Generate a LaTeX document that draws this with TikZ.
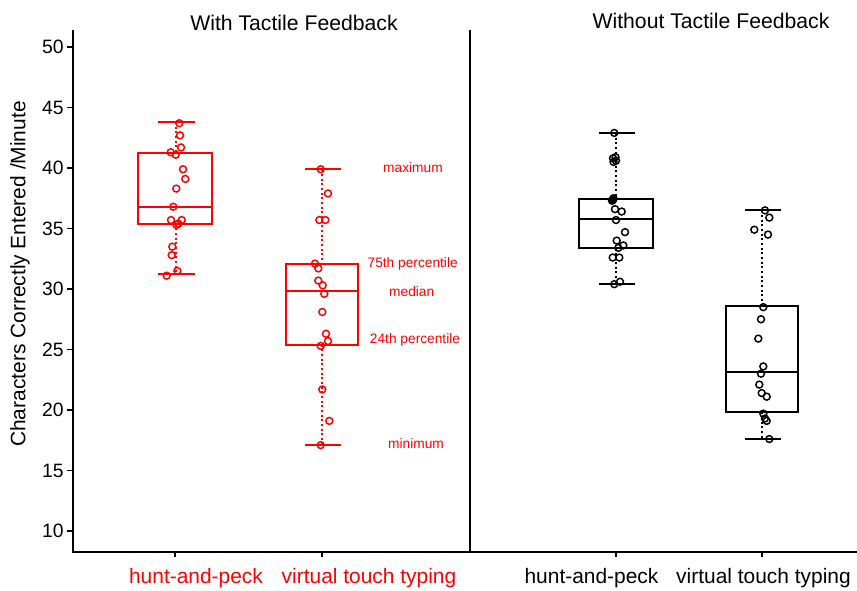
\documentclass[tikz,border=0pt]{standalone}
\usepackage{fontspec}
\setmainfont{Liberation Sans}
\begin{document}
\begin{tikzpicture}[x=0.75pt,y=-0.75pt,
  axisline/.style={line width=1.5pt,black},
  boxline/.style={line width=1.5pt},
  whisk/.style={line width=1.5pt,dotted},
  ptm/.style={line width=1.1pt},
  tlab/.style={font=\fontsize{14.5}{16}\selectfont,anchor=east,inner sep=0pt},
  xlab/.style={font=\fontsize{15.7}{18}\selectfont,inner sep=0pt},
  ttl/.style={font=\fontsize{15.9}{18}\selectfont,inner sep=0pt},
  ann/.style={font=\fontsize{10.3}{12}\selectfont,text=red,inner sep=0pt}]
\useasboundingbox (0,0) rectangle (857,590);
% axes
\draw[axisline] (73,30) -- (73,552) -- (470,552);
\draw[axisline] (470,30) -- (470,552) -- (857,552);
% y ticks
\foreach \v in {10,15,...,50}{
  \pgfmathsetmacro{\yy}{47+(50-\v)*12.1}
  \draw[line width=1pt] (67,\yy) -- (73,\yy);
  \node[tlab] (t\v) at (64,\yy) {\v};
}
% x ticks
\foreach \xx in {175,322,616,762}{
  \draw[line width=1pt] (\xx,552) -- (\xx,557);
}
% titles and labels
\node[ttl] (title1) at (294,23) {With Tactile Feedback};
\node[ttl] (title2) at (711,21) {Without Tactile Feedback};
\node[xlab,rotate=90] (ylab) at (20,274) {Characters Correctly Entered /Minute};
\node[xlab,text=red] (xl1) at (196,578) {hunt-and-peck};
\node[xlab,text=red] (xl2) at (369,578) {virtual touch typing};
\node[xlab] (xl3) at (591.5,578) {hunt-and-peck};
\node[xlab] (xl4) at (763.5,578) {virtual touch typing};
% annotations
\node[ann] (amax) at (413,168) {maximum};
\node[ann] (a75) at (412.7,263.5) {75th percentile};
\node[ann] (amed) at (411.7,291.7) {median};
\node[ann] (a24) at (415,340) {24th percentile};
\node[ann] (amin) at (416,443.3) {minimum};
% data scope: y in data units
\begin{scope}[shift={(0,652)},y={(0,9.075pt)}]
  % box 1 (red)
  \begin{scope}[red]
    \draw[whisk] (176,43.8) -- (176,41.2);
    \draw[whisk] (176,35.4) -- (176,31.2);
    \draw[boxline] (158,43.8) -- (195,43.8);
    \draw[boxline] (158,31.2) -- (195,31.2);
    \draw[boxline] (138,35.4) rectangle (212,41.2);
    \draw[boxline] (138,36.8) -- (212,36.8);
    \foreach \px/\pv in {179.3/43.7,180/42.7,181/41.7,170.7/41.3,175.7/41.1,183/39.9,185.3/39.1,176.3/38.3,173.3/36.8,171/35.7,181.7/35.7,178.3/35.4,176.5/35.3,172.3/33.5,171.7/32.8,177.3/31.5,166.7/31.1}
      \draw[ptm] (\px,\pv) circle[radius=2.6pt];
    % box 2 (red)
    \draw[whisk] (322,39.9) -- (322,32.1);
    \draw[whisk] (322,25.4) -- (322,17.1);
    \draw[boxline] (305,39.9) -- (341,39.9);
    \draw[boxline] (305,17.1) -- (341,17.1);
    \draw[boxline] (286,25.4) rectangle (358,32.1);
    \draw[boxline] (286,29.8) -- (358,29.8);
    \foreach \px/\pv in {320.7/39.9,328/37.9,319.3/35.7,325.3/35.7,315/32.1,318.3/31.7,318.3/30.7,322.7/30.3,324.3/29.6,322.3/28.1,326/26.3,328/25.7,320.7/25.3,322.3/21.7,329.3/19.1,320.7/17.1}
      \draw[ptm] (\px,\pv) circle[radius=2.6pt];
  \end{scope}
  % box 3 (black)
  \draw[whisk] (616,42.9) -- (616,37.4);
  \draw[whisk] (616,33.4) -- (616,30.4);
  \draw[boxline] (599,42.9) -- (635,42.9);
  \draw[boxline] (599,30.4) -- (635,30.4);
  \draw[boxline] (579,33.4) rectangle (653,37.4);
  \draw[boxline] (579,35.8) -- (653,35.8);
  \foreach \px/\pv in {614.3/42.9,613/40.8,615.5/40.9,613.5/40.5,616/40.6,612.7/37.4,613.5/37.5,612/37.3,613/37.35,615/36.6,621.7/36.4,616/35.7,625/34.7,616.7/34.0,623.3/33.6,618.3/33.4,612.7/32.6,619.3/32.6,614.3/30.4,620/30.6}
    \draw[ptm] (\px,\pv) circle[radius=2.6pt];
  \fill (612.9,37.4) circle[radius=2.6pt];
  % box 4 (black)
  \draw[whisk] (762,36.5) -- (762,28.6);
  \draw[whisk] (762,19.8) -- (762,17.6);
  \draw[boxline] (745,36.5) -- (781,36.5);
  \draw[boxline] (745,17.6) -- (781,17.6);
  \draw[boxline] (726,19.8) rectangle (798,28.6);
  \draw[boxline] (726,23.1) -- (798,23.1);
  \foreach \px/\pv in {765/36.5,769.3/35.9,754.3/34.9,768/34.5,763.3/28.5,761/27.5,758.3/25.9,763.3/23.6,761/23.0,759.3/22.1,761.7/21.4,766.7/21.1,763.3/19.7,765/19.3,766.7/19.1,769.3/17.6}
    \draw[ptm] (\px,\pv) circle[radius=2.6pt];
\end{scope}
\end{tikzpicture}
\end{document}
